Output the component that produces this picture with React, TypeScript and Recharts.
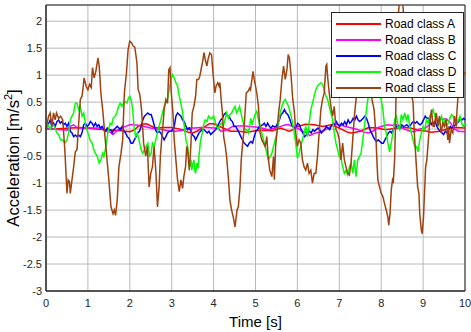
import React from "react";
import {
  CartesianGrid,
  Legend,
  Line,
  LineChart,
  ReferenceArea,
  XAxis,
  YAxis,
} from "recharts";

// Each series: [time (s), acceleration (m/s^2)]
const roadA: [number, number][] = [
  [0, 0], [0.2, 0], [0.4, 0.01], [0.6, 0.02], [0.8, 0.03], [1.0, 0.02], [1.2, 0], [1.4, -0.01],
  [1.6, -0.02], [1.8, -0.03], [2.0, -0.05], [2.1, -0.02], [2.2, 0.05], [2.3, 0.09], [2.4, 0.1],
  [2.5, 0.06], [2.6, 0.02], [2.8, 0.03], [3.0, 0.03], [3.2, 0], [3.4, -0.06], [3.5, -0.07],
  [3.6, -0.04], [3.8, 0.05], [3.9, 0.1], [4.0, 0.1], [4.2, 0.03], [4.4, -0.04], [4.6, -0.04],
  [4.8, -0.06], [5.0, -0.03], [5.2, -0.02], [5.4, -0.03], [5.6, 0.02], [5.7, -0.01], [5.8, -0.04],
  [5.9, -0.01], [6.0, 0.05], [6.2, 0.09], [6.4, 0.08], [6.6, 0.05], [6.8, 0.08], [7.0, 0.02],
  [7.2, -0.06], [7.3, -0.07], [7.5, -0.04], [7.7, 0.03], [7.9, 0.02], [8.1, -0.01], [8.3, 0.01],
  [8.5, 0.03], [8.7, 0.02], [8.9, -0.02], [9.1, -0.04], [9.2, -0.06], [9.4, -0.04], [9.6, 0.01],
  [9.8, 0.03], [10.0, 0.02],
];

const roadB: [number, number][] = [
  [0, 0], [0.1, 0.02], [0.2, 0], [0.3, -0.01], [0.4, -0.01], [0.5, -0.02], [0.6, 0.06], [0.66, 0.08],
  [0.75, 0.02], [0.85, 0.02], [1.0, 0.02], [1.15, 0.02], [1.3, 0.02], [1.45, -0.04], [1.53, -0.06],
  [1.6, -0.1], [1.68, -0.04], [1.78, 0.02], [1.9, 0.05], [2.0, 0.08], [2.1, 0.08], [2.2, 0.07],
  [2.35, 0.05], [2.5, 0.02], [2.65, 0], [2.8, -0.01], [2.95, -0.04], [3.1, -0.04], [3.25, -0.02],
  [3.4, 0.02], [3.55, 0.02], [3.7, 0.03], [3.85, 0.03], [4.0, 0.02], [4.1, 0.02], [4.17, -0.04],
  [4.25, -0.03], [4.35, 0], [4.45, 0.05], [4.6, 0.06], [4.75, 0.06], [4.85, 0.05], [5.0, 0.04],
  [5.15, 0.02], [5.3, -0.01], [5.45, 0.01], [5.6, 0.05], [5.72, 0.08], [5.8, 0.08], [5.9, 0.04],
  [6.0, 0.02], [6.12, -0.04], [6.2, -0.06], [6.3, -0.12], [6.4, -0.08], [6.55, -0.05], [6.7, 0],
  [6.8, 0.05], [6.9, 0.1], [7.0, 0.08], [7.15, 0.05], [7.3, 0.02], [7.45, -0.01], [7.6, -0.06],
  [7.7, -0.07], [7.8, -0.04], [7.9, 0.02], [8.0, 0.05], [8.15, 0.08], [8.25, 0.07], [8.4, 0.08],
  [8.55, 0], [8.7, -0.04], [8.8, -0.05], [8.9, 0], [9.05, 0.02], [9.15, 0.08], [9.3, 0.15],
  [9.4, 0.18], [9.55, 0.19], [9.65, 0.12], [9.75, 0], [9.85, -0.04], [10.0, -0.05],
];

const roadC: [number, number][] = [
  [0, 0], [0.05, 0.08], [0.1, 0.17], [0.14, 0.05], [0.18, 0.11], [0.22, 0.05], [0.26, 0.14], [0.3, 0.17],
  [0.34, 0.11], [0.38, 0.14], [0.42, 0.08], [0.46, 0.11], [0.5, 0.05], [0.54, 0.11], [0.58, -0.04],
  [0.62, -0.07], [0.66, -0.14], [0.7, -0.11], [0.74, -0.14], [0.78, -0.11], [0.82, -0.14], [0.86, -0.07],
  [0.9, 0.08], [0.94, 0.11], [0.98, 0.05], [1.02, 0.08], [1.06, 0.14], [1.1, 0.11], [1.14, 0.05],
  [1.18, 0.11], [1.22, 0.05], [1.26, 0.08], [1.3, 0.02], [1.34, 0.05], [1.38, -0.01], [1.42, -0.04],
  [1.46, 0.02], [1.5, -0.01], [1.54, -0.01], [1.58, -0.07], [1.62, -0.01], [1.66, 0.02], [1.7, 0.05],
  [1.74, 0.02], [1.78, -0.01], [1.82, 0.05], [1.86, -0.04], [1.9, -0.07], [1.94, -0.14], [1.98, -0.17],
  [2.03, -0.26], [2.07, -0.26], [2.11, -0.2], [2.15, -0.14], [2.19, -0.07], [2.23, -0.04], [2.27, 0.05],
  [2.31, 0.17], [2.35, 0.24], [2.39, 0.27], [2.43, 0.3], [2.47, 0.27], [2.51, 0.27], [2.55, 0.17],
  [2.59, 0.05], [2.63, -0.04], [2.66, -0.07], [2.7, -0.04], [2.74, -0.07], [2.78, -0.14], [2.82, -0.2],
  [2.86, -0.14], [2.9, -0.07], [2.94, -0.04], [2.98, -0.04], [3.02, -0.01], [3.06, 0.05], [3.1, 0.24],
  [3.14, 0.3], [3.18, 0.27], [3.22, 0.24], [3.26, 0.17], [3.3, 0.14], [3.34, 0.05], [3.38, -0.01],
  [3.42, 0.02], [3.46, -0.04], [3.5, -0.11], [3.54, -0.14], [3.57, -0.2], [3.61, -0.14], [3.65, -0.07],
  [3.69, -0.04], [3.73, -0.01], [3.77, -0.01], [3.81, -0.04], [3.85, -0.07], [3.89, -0.04], [3.93, -0.1],
  [3.97, -0.07], [4.01, -0.04], [4.05, -0.01], [4.09, 0.05], [4.13, 0.11], [4.17, 0.17], [4.21, 0.2],
  [4.25, 0.27], [4.29, 0.3], [4.33, 0.24], [4.37, 0.24], [4.41, 0.17], [4.45, 0.14], [4.49, 0.05],
  [4.53, 0.05], [4.57, -0.01], [4.61, -0.07], [4.65, -0.14], [4.69, -0.2], [4.73, -0.26], [4.77, -0.29],
  [4.81, -0.32], [4.85, -0.26], [4.89, -0.23], [4.93, -0.26], [4.97, -0.14], [5.01, -0.04], [5.05, -0.01],
  [5.09, 0.05], [5.13, 0.06], [5.17, 0.08], [5.21, 0.11], [5.25, 0.05], [5.29, 0.11], [5.33, 0.05],
  [5.37, 0.02], [5.41, 0.06], [5.45, 0.04], [5.49, 0.05], [5.53, 0.11], [5.57, 0.17], [5.61, 0.27],
  [5.65, 0.3], [5.69, 0.36], [5.73, 0.3], [5.77, 0.27], [5.81, 0.2], [5.85, 0.11], [5.89, 0.05],
  [5.93, 0.02], [5.97, 0.05], [6.01, 0.11], [6.05, 0.08], [6.09, -0.01], [6.13, -0.07], [6.17, -0.14],
  [6.21, -0.11], [6.25, -0.07], [6.29, -0.04], [6.33, -0.07], [6.37, -0.01], [6.41, -0.04], [6.45, -0.01],
  [6.49, 0.02], [6.53, -0.01], [6.57, -0.07], [6.61, -0.04], [6.65, -0.01], [6.69, 0.05], [6.73, 0.02],
  [6.77, -0.01], [6.81, 0.06], [6.85, 0.11], [6.89, 0.08], [6.93, 0.14], [6.97, 0.08], [7.01, 0.05],
  [7.05, 0.11], [7.09, 0.08], [7.13, 0.14], [7.17, 0.08], [7.21, 0.17], [7.25, 0.11], [7.29, 0.14],
  [7.33, 0.2], [7.37, 0.17], [7.41, 0.24], [7.45, 0.17], [7.49, 0.14], [7.53, 0.17], [7.57, 0.2],
  [7.61, 0.24], [7.65, 0.2], [7.69, 0.11], [7.73, -0.01], [7.77, -0.07], [7.81, -0.14], [7.85, -0.2],
  [7.89, -0.23], [7.93, -0.2], [7.97, -0.23], [8.01, -0.26], [8.05, -0.26], [8.09, -0.2], [8.13, -0.14],
  [8.17, -0.07], [8.21, -0.04], [8.25, -0.07], [8.29, 0], [8.33, 0.02], [8.37, 0.05], [8.41, 0.06],
  [8.45, 0.02], [8.49, 0.08], [8.53, 0.05], [8.57, 0.06], [8.61, 0.08], [8.65, 0.05], [8.69, 0.06],
  [8.73, 0.11], [8.77, 0.14], [8.81, 0.11], [8.85, 0.14], [8.89, 0.1], [8.93, 0.08], [8.97, 0.11],
  [9.01, 0.17], [9.05, 0.24], [9.09, 0.2], [9.13, 0.2], [9.17, 0.14], [9.21, 0.08], [9.25, 0.11],
  [9.29, 0.14], [9.33, 0.05], [9.37, -0.01], [9.41, -0.04], [9.45, -0.07], [9.49, -0.1], [9.53, -0.04],
  [9.57, -0.07], [9.61, -0.01], [9.65, 0.05], [9.69, 0.02], [9.73, 0.05], [9.77, 0.08], [9.81, 0.11],
  [9.85, 0.14], [9.89, 0.2], [9.93, 0.17], [9.97, 0.2], [10.0, 0.17],
];

const roadD: [number, number][] = [
  [0, 0], [0.05, 0.08], [0.1, 0], [0.15, 0.1], [0.2, 0.05], [0.25, -0.05], [0.3, -0.1], [0.35, -0.2],
  [0.4, -0.2], [0.45, -0.26], [0.5, -0.2], [0.54, -0.07], [0.58, 0.17], [0.62, 0.24], [0.66, 0.3],
  [0.7, 0.48], [0.74, 0.48], [0.78, 0.36], [0.82, 0.42], [0.86, 0.24], [0.9, 0.3], [0.95, 0.05],
  [1.0, -0.07], [1.05, -0.2], [1.1, -0.26], [1.14, -0.38], [1.18, -0.45], [1.22, -0.5], [1.27, -0.63],
  [1.31, -0.57], [1.35, -0.45], [1.38, -0.51], [1.43, -0.32], [1.48, -0.05], [1.53, 0.11], [1.57, 0.08],
  [1.6, 0.2], [1.65, 0.24], [1.69, 0.3], [1.73, 0.42], [1.77, 0.48], [1.81, 0.42], [1.85, 0.48],
  [1.89, 0.51], [1.93, 0.48], [1.97, 0.58], [2.0, 0.61], [2.03, 0.55], [2.07, 0.36], [2.1, 0.05],
  [2.14, -0.14], [2.18, -0.07], [2.22, -0.2], [2.27, -0.38], [2.31, -0.45], [2.35, -0.38], [2.39, -0.32],
  [2.43, -0.26], [2.47, -0.5], [2.51, -0.45], [2.54, -0.26], [2.58, -0.32], [2.62, -0.2], [2.66, -0.07],
  [2.7, 0.05], [2.74, 0.17], [2.78, 0.3], [2.82, 0.42], [2.86, 0.48], [2.9, 0.55], [2.94, 0.73],
  [2.98, 0.92], [3.02, 1.01], [3.06, 0.95], [3.1, 0.86], [3.14, 0.8], [3.18, 0.61], [3.22, 0.48],
  [3.26, 0.3], [3.3, 0.05], [3.34, -0.2], [3.38, -0.32], [3.41, -0.57], [3.43, -0.7], [3.46, -0.57],
  [3.48, -0.76], [3.51, -0.63], [3.53, -0.57], [3.55, -0.76], [3.57, -0.82], [3.6, -0.63], [3.63, -0.73],
  [3.65, -0.51], [3.69, -0.2], [3.73, -0.07], [3.77, 0.11], [3.8, 0.17], [3.84, 0.14], [3.88, 0.24],
  [3.92, 0.2], [3.96, 0.2], [4.0, 0.24], [4.03, 0.17], [4.07, 0.05], [4.11, 0], [4.15, 0.08],
  [4.19, 0.11], [4.23, 0.05], [4.27, 0.17], [4.31, 0.3], [4.35, 0.2], [4.39, 0.27], [4.43, 0.3],
  [4.47, 0.36], [4.51, 0.42], [4.55, 0.3], [4.59, 0.36], [4.62, 0.42], [4.67, 0.24], [4.71, 0.11],
  [4.75, -0.01], [4.79, -0.01], [4.83, -0.07], [4.86, 0.05], [4.89, 0.2], [4.92, 0.08], [4.95, 0.17],
  [4.99, 0.27], [5.03, 0.33], [5.07, 0.17], [5.11, 0.05], [5.15, -0.07], [5.19, -0.2], [5.23, -0.32],
  [5.27, -0.45], [5.31, -0.57], [5.35, -0.51], [5.39, -0.45], [5.43, -0.32], [5.47, -0.2], [5.51, -0.07],
  [5.55, 0.11], [5.59, 0.3], [5.63, 0.42], [5.67, 0.51], [5.71, 0.55], [5.75, 0.48], [5.79, 0.42],
  [5.83, 0.3], [5.87, 0.17], [5.91, 0], [5.95, -0.2], [5.98, -0.38], [6.0, -0.54], [6.04, -0.45],
  [6.08, -0.32], [6.12, -0.2], [6.16, -0.07], [6.2, 0.05], [6.24, -0.14], [6.28, 0.11], [6.32, 0.36],
  [6.36, 0.48], [6.4, 0.61], [6.44, 0.73], [6.48, 0.8], [6.52, 0.83], [6.56, 0.86], [6.6, 0.83],
  [6.64, 0.73], [6.68, 0.61], [6.72, 0.55], [6.76, 0.42], [6.8, 0.3], [6.84, 0.17], [6.88, -0.07],
  [6.92, -0.26], [6.96, -0.38], [7.0, -0.51], [7.04, -0.54], [7.08, -0.7], [7.12, -0.82], [7.16, -0.76],
  [7.2, -0.85], [7.24, -0.7], [7.28, -0.63], [7.32, -0.82], [7.36, -0.57], [7.4, -0.88], [7.44, -0.57],
  [7.48, -0.51], [7.52, -0.45], [7.56, -0.2], [7.6, 0.05], [7.64, 0.3], [7.68, 0.55], [7.72, 0.67],
  [7.78, 0.85], [7.84, 0.9], [7.9, 0.75], [7.96, 0.61], [8.0, 0.55], [8.04, 0.36], [8.08, 0.05],
  [8.12, -0.07], [8.16, -0.26], [8.2, -0.42], [8.24, -0.26], [8.28, -0.07], [8.32, 0.17], [8.36, 0.24],
  [8.4, 0.05], [8.44, -0.01], [8.48, 0.27], [8.52, 0.17], [8.56, 0.3], [8.6, 0.17], [8.64, 0.27],
  [8.68, 0.05], [8.72, -0.07], [8.76, -0.2], [8.8, -0.32], [8.84, -0.32], [8.88, -0.42], [8.92, -0.2],
  [8.96, -0.07], [9.0, 0.05], [9.04, -0.01], [9.08, 0.17], [9.12, 0.11], [9.16, 0.24], [9.2, 0.3],
  [9.24, 0.36], [9.28, 0.24], [9.32, 0.27], [9.36, 0.05], [9.4, 0.17], [9.44, 0.24], [9.48, 0.08],
  [9.52, 0.17], [9.56, 0.05], [9.6, 0.11], [9.64, 0.2], [9.68, 0.27], [9.72, 0.24], [9.76, 0.17],
  [9.8, 0.08], [9.84, 0.17], [9.88, 0.24], [9.92, 0.11], [9.96, 0.05], [10.0, 0.1],
];

const roadE: [number, number][] = [
  [0, 0], [0.06, 0.24], [0.1, 0.3], [0.14, 0.05], [0.18, 0.3], [0.22, 0.17], [0.25, 0.3], [0.3, 0.2],
  [0.35, 0.24], [0.4, 0.17], [0.45, -0.39], [0.5, -1.19], [0.53, -0.94], [0.56, -0.97], [0.58, -1.19],
  [0.62, -0.94], [0.66, -0.7], [0.7, -0.42], [0.74, -0.38], [0.78, 0.11], [0.82, 0.55], [0.86, 0.61],
  [0.88, 0.73], [0.91, 0.95], [0.96, 0.79], [1.0, 0.73], [1.04, 0.83], [1.08, 0.77], [1.11, 1.14],
  [1.15, 0.95], [1.19, 1.07], [1.24, 1.32], [1.27, 1.17], [1.31, 0.67], [1.36, 0.3], [1.4, -0.07],
  [1.45, -0.51], [1.5, -0.94], [1.55, -1.44], [1.6, -1.57], [1.63, -1.5], [1.66, -1.6], [1.7, -1.32],
  [1.74, -0.7], [1.79, -0.45], [1.83, -0.2], [1.87, 0.67], [1.92, 1.04], [1.96, 1.48], [2.0, 1.63],
  [2.04, 1.6], [2.08, 1.54], [2.12, 1.52], [2.17, 1.23], [2.2, 0.73], [2.24, 0.64], [2.28, 0.36],
  [2.33, -0.26], [2.38, -0.5], [2.42, -0.32], [2.46, -1.07], [2.5, -0.82], [2.54, -0.7], [2.58, -0.32],
  [2.62, -0.76], [2.64, -1.07], [2.66, -1.44], [2.7, -1.07], [2.73, -0.5], [2.76, -0.2], [2.79, 0.05],
  [2.82, 0.36], [2.86, 0.55], [2.9, 0.48], [2.93, 1.1], [2.96, 1.14], [2.99, 0.67], [3.03, 0.3],
  [3.06, -0.2], [3.1, -0.57], [3.14, -0.94], [3.18, -1.16], [3.22, -0.94], [3.26, -1.1], [3.29, -0.88],
  [3.33, -0.7], [3.36, -0.32], [3.38, -0.38], [3.42, -0.76], [3.44, -0.54], [3.46, -0.26], [3.49, 0.3],
  [3.53, 0.42], [3.57, 0.61], [3.6, 0.92], [3.64, 0.92], [3.67, 0.98], [3.7, 1.1], [3.74, 1.26],
  [3.77, 1.42], [3.8, 1.29], [3.84, 1.17], [3.87, 1.3], [3.91, 1.41], [3.95, 1.38], [3.99, 1.0],
  [4.03, 0.67], [4.06, 0.8], [4.1, 0.86], [4.13, 0.8], [4.15, 0.86], [4.18, 0.55], [4.21, 0.3],
  [4.24, -0.14], [4.28, -0.32], [4.31, -0.51], [4.35, -0.88], [4.39, -1.32], [4.43, -1.5], [4.47, -1.63],
  [4.51, -1.81], [4.53, -1.69], [4.56, -1.5], [4.59, -1.44], [4.63, -1.07], [4.66, -0.57], [4.7, -0.2],
  [4.72, -0.07], [4.75, 0.3], [4.78, 0.67], [4.82, 0.7], [4.86, 0.76], [4.88, 0.73], [4.91, 0.89],
  [4.94, 1.07], [4.97, 0.92], [5.0, 0.8], [5.03, 0.67], [5.07, 0.42], [5.11, -0.07], [5.15, -0.2],
  [5.19, -0.26], [5.23, -0.32], [5.27, -0.14], [5.3, -0.51], [5.34, -0.76], [5.39, -0.88], [5.43, -0.51],
  [5.45, -0.94], [5.48, -0.32], [5.52, 0], [5.55, 0.3], [5.59, 0.55], [5.63, 0.92], [5.67, 1.17],
  [5.71, 0.92], [5.75, 1.1], [5.78, 1.38], [5.81, 1.32], [5.85, 0.98], [5.89, 0.55], [5.93, 0.3],
  [5.96, -0.07], [6.0, -0.32], [6.04, -0.2], [6.08, -0.26], [6.12, -0.57], [6.16, -0.7], [6.2, -0.76],
  [6.24, -0.63], [6.28, -0.82], [6.32, -0.76], [6.36, -1.0], [6.4, -0.82], [6.44, -0.82], [6.48, -0.5],
  [6.52, -0.07], [6.56, 0.36], [6.6, 0.55], [6.64, 0.67], [6.68, 1.17], [6.7, 1.2], [6.72, 0.98],
  [6.76, 0.67], [6.8, 0.42], [6.84, 0.24], [6.88, 0.42], [6.92, -0.01], [6.96, -0.07], [7.0, -0.2],
  [7.04, -0.57], [7.08, -0.26], [7.12, -0.57], [7.16, -0.7], [7.2, -0.82], [7.24, -0.85], [7.28, -0.63],
  [7.32, -0.2], [7.36, 0.24], [7.4, 0.55], [7.48, 1.2], [7.56, 1.55], [7.64, 1.35], [7.72, 0.95],
  [7.78, 0.55], [7.83, 0.36], [7.87, -0.07], [7.89, -0.45], [7.92, -0.94], [7.96, -1.07], [8.0, -1.19],
  [8.04, -1.25], [8.08, -1.38], [8.12, -1.5], [8.16, -1.63], [8.18, -1.78], [8.21, -1.57], [8.24, -1.13],
  [8.27, -0.94], [8.29, -0.97], [8.32, -0.57], [8.34, 0.05], [8.36, 0.86], [8.38, 1.48], [8.4, 2.04],
  [8.45, 2.5], [8.5, 2.45], [8.56, 1.9], [8.62, 1.3], [8.68, 0.8], [8.76, 0.5], [8.79, -0.07],
  [8.83, -0.57], [8.87, -1.07], [8.9, -1.19], [8.92, -1.57], [8.96, -1.88], [8.98, -1.94], [9.01, -1.63],
  [9.04, -1.07], [9.06, -0.7], [9.09, -0.57], [9.12, -0.26], [9.15, 0.05], [9.17, 0.17], [9.2, 0.36],
  [9.24, 0.05], [9.27, 0.05], [9.31, 0.3], [9.35, 0.05], [9.39, 0.24], [9.43, -0.07], [9.47, 0.11],
  [9.51, 0.05], [9.55, 0.17], [9.59, -0.2], [9.61, 0.05], [9.63, -0.26], [9.67, -0.01], [9.71, -0.07],
  [9.75, 0.24], [9.79, 0.05], [9.81, 0.36], [9.84, 0.67], [9.88, 0.92], [9.92, 0.98], [9.96, 1.0],
  [10.0, 1.05],
];

const seriesNames = ["Road class A", "Road class B", "Road class C", "Road class D", "Road class E"];
const seriesColors = ["#ff0000", "#ff00ff", "#0000ff", "#00ff00", "#a0420f"];
const seriesData = [roadA, roadB, roadC, roadD, roadE];

const xTicks = [0, 1, 2, 3, 4, 5, 6, 7, 8, 9, 10];
const yTicks = [-3, -2.5, -2, -1.5, -1, -0.5, 0, 0.5, 1, 1.5, 2];

const FONT = "'Liberation Sans', Arial, sans-serif";
const INK = "#262626";

function LegendBox() {
  return (
    <div
      style={{
        width: 131,
        height: 81,
        border: `1px solid ${INK}`,
        background: "#fff",
        fontFamily: FONT,
        fontSize: 12,
        color: "#000",
        paddingTop: 3,
        boxSizing: "content-box",
      }}
    >
      {seriesNames.map((name, i) => (
        <div key={name} style={{ display: "flex", alignItems: "center", height: 16 }}>
          <span
            style={{
              display: "inline-block",
              marginLeft: 4,
              width: 45,
              height: 0,
              borderTop: `2px solid ${seriesColors[i]}`,
            }}
          />
          <span style={{ marginLeft: 4, whiteSpace: "nowrap" }}>{name}</span>
        </div>
      ))}
    </div>
  );
}

function YLabel() {
  return (
    <text
      x={19}
      y={158}
      transform="rotate(-90 19 158)"
      textAnchor="middle"
      fontFamily={FONT}
      fontSize={16.5}
      fill="#000"
    >
      Acceleration [m/s
      <tspan dy={-7} fontSize={11}>2</tspan>
      <tspan dy={7}>]</tspan>
    </text>
  );
}

export default function App() {
  return (
    <div style={{ position: "absolute", left: 0, top: 0, width: 471, height: 332, background: "#fff" }}>
      <LineChart width={471} height={332} margin={{ top: 5, right: 6, bottom: 11, left: 0 }}>
        <CartesianGrid stroke="#b8b8b8" strokeWidth={1} />
        <XAxis
          dataKey="t"
          type="number"
          domain={[0, 10]}
          ticks={xTicks}
          height={30}
          tickLine={false}
          tickSize={0}
          tickMargin={8}
          axisLine={{ stroke: INK }}
          tick={{ fontSize: 11, fill: INK, fontFamily: FONT }}
          allowDuplicatedCategory={false}
          label={{
            value: "Time [s]",
            position: "insideBottom",
            offset: -6,
            fontSize: 15,
            fill: "#000",
            fontFamily: FONT,
          }}
        />
        <YAxis
          type="number"
          domain={[-3, 2.3]}
          ticks={yTicks}
          allowDataOverflow
          width={46}
          tickLine={false}
          tickSize={0}
          tickMargin={4}
          axisLine={{ stroke: INK }}
          tick={{ fontSize: 11, fill: INK, fontFamily: FONT }}
          label={{ content: () => <YLabel /> }}
        />
        <ReferenceArea x1={0} x2={10} y1={-3} y2={2.3} fill="none" stroke={INK} strokeWidth={1} />
        {seriesData.map((s, i) => (
          <Line
            key={seriesNames[i]}
            data={s.map(([t, v]) => ({ t, v }))}
            dataKey="v"
            name={seriesNames[i]}
            type="linear"
            stroke={seriesColors[i]}
            strokeWidth={1.5}
            dot={false}
            activeDot={false}
            isAnimationActive={false}
          />
        ))}
        <Legend
          layout="vertical"
          align="center"
          verticalAlign="middle"
          content={() => <LegendBox />}
          wrapperStyle={{ position: "absolute", left: 331, top: 12, width: 133, height: 85 }}
        />
      </LineChart>
    </div>
  );
}
